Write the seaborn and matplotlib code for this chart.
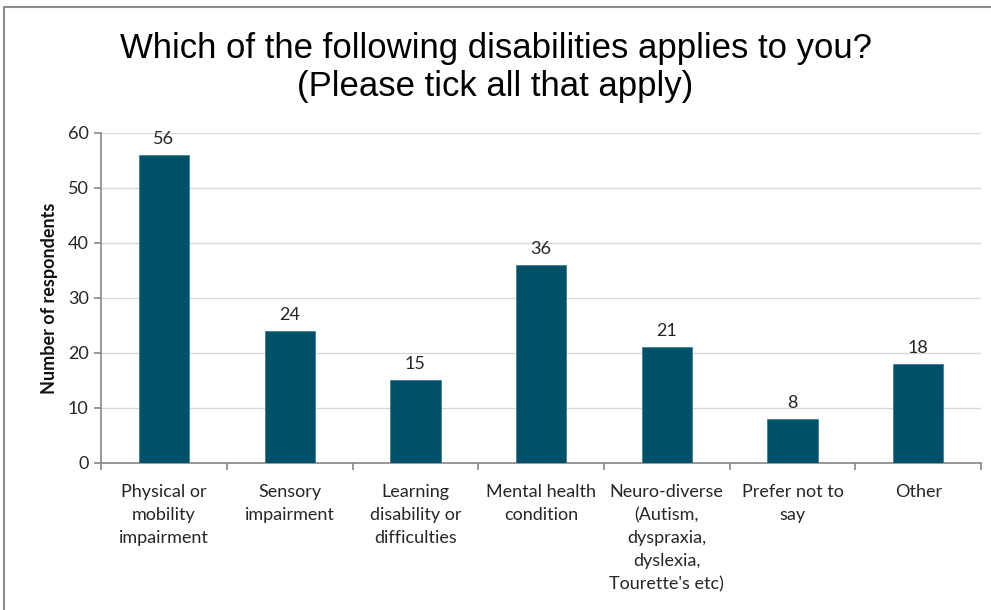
import matplotlib
matplotlib.use("Agg")
import matplotlib.pyplot as plt
import seaborn as sns
import pandas as pd
import numpy as np

categories = [
    "Physical or\nmobility\nimpairment",
    "Sensory\nimpairment",
    "Learning\ndisability or\ndifficulties",
    "Mental health\ncondition",
    "Neuro-diverse\n(Autism,\ndyspraxia,\ndyslexia,\nTourette's etc)",
    "Prefer not to\nsay",
    "Other",
]
respondents = [56, 24, 15, 36, 21, 8, 18]
y_ticks = [0, 10, 20, 30, 40, 50, 60]

title = "Which of the following disabilities applies to you?\n(Please tick all that apply)"
y_label = "Number of respondents"

bar_color = "#00506a"
axis_color = "#868686"
grid_color = "#d9d9d9"
label_font = ["Lato", "DejaVu Sans"]
title_font = ["Liberation Sans", "DejaVu Sans"]

sns.set_theme(style="white")
plt.rcParams["font.family"] = label_font

df = pd.DataFrame({"category": categories, "count": respondents})

fig = plt.figure(figsize=(9.91, 6.1), dpi=100)
ax = fig.add_axes([0.102, 0.241, 0.888, 0.541])

sns.barplot(data=df, x="category", y="count", color=bar_color, width=0.4,
            saturation=1, edgecolor="#3f7f95", linewidth=0.6, ax=ax, zorder=3)

ax.set_ylim(0, 60)
ax.set_xlim(-0.5, len(categories) - 0.5)
ax.set_yticks(y_ticks)
ax.yaxis.grid(True, color=grid_color, linewidth=1, zorder=0)
ax.xaxis.grid(False)

for side in ["top", "right"]:
    ax.spines[side].set_visible(False)
for side in ["left", "bottom"]:
    ax.spines[side].set_color(axis_color)
    ax.spines[side].set_linewidth(1.2)

ax.tick_params(axis="y", which="major", left=True, length=5, width=1.2,
               color=axis_color, labelsize=13, labelcolor="#262626", pad=4)
ax.tick_params(axis="x", which="major", bottom=False, labelsize=13,
               labelcolor="#262626", pad=9)
ax.set_xticks(range(len(categories)))
ax.set_xticklabels(categories, multialignment="center", linespacing=1.55)
ax.set_xticks(np.arange(-0.5, len(categories), 1), minor=True)
ax.tick_params(axis="x", which="minor", bottom=True, length=5, width=1.2,
               color=axis_color)

ax.set_xlabel("")
ax.set_ylabel(y_label, fontsize=13, fontweight="bold", color="#111111", labelpad=7)

for container in ax.containers:
    ax.bar_label(container, labels=[str(v) for v in respondents], padding=6,
                 fontsize=13, color="#262626")

fig.text(0.5, 0.948, title, ha="center", va="top", fontsize=25,
         family=title_font, color="#000000", linespacing=1.22)

# frame lines along the top and left edges of the figure
fig.add_artist(plt.Line2D([0.004, 1.0], [0.989, 0.989], color="#8c8c8c",
                          linewidth=1.5, transform=fig.transFigure))
fig.add_artist(plt.Line2D([0.004, 0.004], [0.0, 0.989], color="#8c8c8c",
                          linewidth=1.5, transform=fig.transFigure))

fig.savefig("out.png", dpi=100, facecolor="white")
